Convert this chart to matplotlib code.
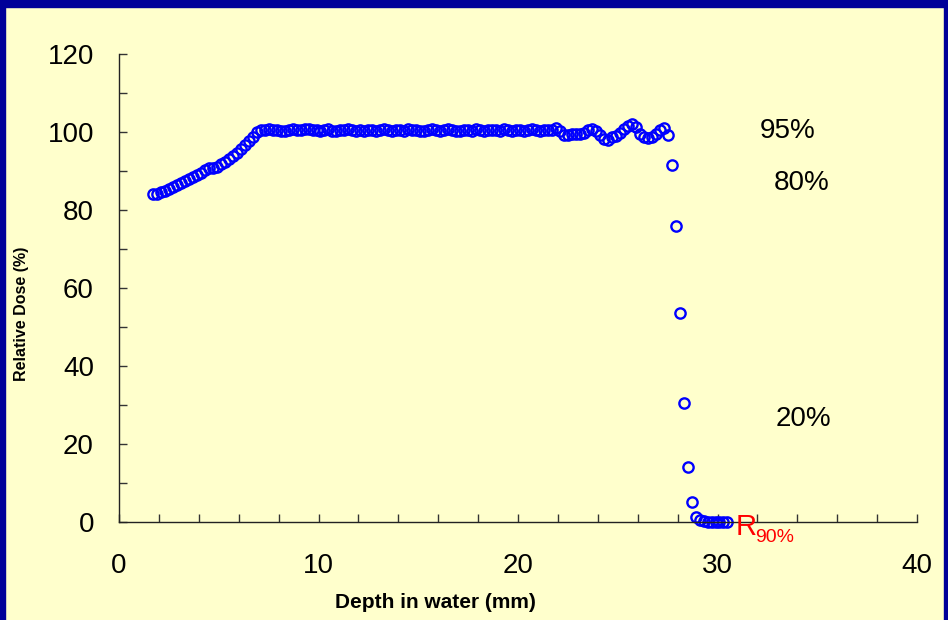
import matplotlib
matplotlib.use("Agg")
import matplotlib.pyplot as plt
from matplotlib.patches import Rectangle

plt.rcParams['font.family'] = ['Liberation Sans', 'DejaVu Sans']

depth = [1.7, 1.9, 2.1, 2.3, 2.5, 2.7, 2.9, 3.1, 3.3, 3.5,
         3.7, 3.9, 4.1, 4.3, 4.5, 4.7, 4.9, 5.1, 5.3, 5.5,
         5.7, 5.9, 6.1, 6.3, 6.5, 6.7, 6.9, 7.1, 7.3, 7.5,
         7.7, 7.9, 8.1, 8.3, 8.5, 8.7, 8.9, 9.1, 9.3, 9.5,
         9.7, 9.9, 10.1, 10.3, 10.5, 10.7, 10.9, 11.1, 11.3, 11.5,
         11.7, 11.9, 12.1, 12.3, 12.5, 12.7, 12.9, 13.1, 13.3, 13.5,
         13.7, 13.9, 14.1, 14.3, 14.5, 14.7, 14.9, 15.1, 15.3, 15.5,
         15.7, 15.9, 16.1, 16.3, 16.5, 16.7, 16.9, 17.1, 17.3, 17.5,
         17.7, 17.9, 18.1, 18.3, 18.5, 18.7, 18.9, 19.1, 19.3, 19.5,
         19.7, 19.9, 20.1, 20.3, 20.5, 20.7, 20.9, 21.1, 21.3, 21.5,
         21.7, 21.9, 22.1, 22.3, 22.5, 22.7, 22.9, 23.1, 23.3, 23.5,
         23.7, 23.9, 24.1, 24.3, 24.5, 24.7, 24.9, 25.1, 25.3, 25.5,
         25.7, 25.9, 26.1, 26.3, 26.5, 26.7, 26.9, 27.1, 27.3, 27.5,
         27.7, 27.9, 28.1, 28.3, 28.5, 28.7, 28.9, 29.1, 29.3, 29.5,
         29.7, 29.9, 30.1, 30.3, 30.5]

dose = [84.1, 84.2, 84.6, 85.0, 85.3, 85.9, 86.4, 86.9, 87.5, 88.0,
        88.5, 89.0, 89.6, 90.3, 90.7, 90.7, 91.0, 91.7, 92.4, 93.1,
        93.8, 94.6, 95.6, 96.6, 97.6, 98.8, 100.0, 100.4,
        100.5, 100.8, 100.4, 100.6, 100.2, 100.3, 100.5, 100.7, 100.6, 100.4,
        100.7, 100.8, 100.6, 100.4, 100.2, 100.5, 100.7, 100.3, 100.2, 100.6,
        100.4, 100.7, 100.5, 100.3, 100.6, 100.2, 100.4, 100.6, 100.3, 100.5,
        100.7, 100.4, 100.2, 100.6, 100.5, 100.3, 100.7, 100.4, 100.6, 100.3,
        100.2, 100.5, 100.7, 100.4, 100.3, 100.6, 100.8, 100.5, 100.3, 100.2,
        100.6, 100.4, 100.3, 100.7, 100.5, 100.2, 100.4, 100.6, 100.5, 100.3,
        100.7, 100.4, 100.2, 100.5, 100.6, 100.3, 100.4, 100.7, 100.5, 100.3,
        100.6, 100.4, 100.5,
        100.9, 100.2, 99.3, 99.2, 99.4, 99.5, 99.6, 99.8, 100.4, 100.8,
        100.2, 99.2, 98.2, 98.0, 98.6, 99.0, 99.8, 100.7, 101.5, 102.0,
        101.4, 99.6, 98.8, 98.5, 98.8, 99.6, 100.4, 100.9, 99.2,
        91.6, 76.0, 53.5, 30.4, 14.0, 5.2, 1.4, 0.4, 0.2, 0.1,
        0.0, 0.0, 0.0, 0.1, 0.0]

x_ticks = [0, 10, 20, 30, 40]
y_ticks = [0, 20, 40, 60, 80, 100, 120]
level_labels = ["95%", "80%", "20%"]
level_pos = [(33.5, 100.3), (34.2, 87.0), (34.3, 26.4)]

bg = '#FFFFCC'
border = '#000099'

fig = plt.figure(figsize=(9.48, 6.2), dpi=100, facecolor=bg)
W, H = 948, 620
fig.patches.append(Rectangle((0, 1 - 7 / H), 1, 7 / H, transform=fig.transFigure,
                             color=border, zorder=0))
fig.patches.append(Rectangle((0, 0), 5 / W, 1, transform=fig.transFigure,
                             color=border, zorder=0))
fig.patches.append(Rectangle((1 - 4 / W, 0), 4 / W, 1, transform=fig.transFigure,
                             color=border, zorder=0))

ax = fig.add_axes([119 / W, (H - 522) / H, 798 / W, 468 / H])
ax.set_facecolor(bg)
ax.patch.set_alpha(0)

ax.plot(depth, dose, linestyle='none', marker='o', markersize=7.4,
        markerfacecolor='none', markeredgecolor='#0000FF', markeredgewidth=1.7,
        clip_on=False)

ax.set_xlim(0, 40)
ax.set_ylim(0, 120)
ax.set_xticks(x_ticks)
ax.set_xticks([v for v in range(0, 41, 2)], minor=True)
ax.set_yticks(y_ticks)
ax.set_yticks([v for v in range(0, 121, 10)], minor=True)
for s in ['top', 'right']:
    ax.spines[s].set_visible(False)
for s in ['left', 'bottom']:
    ax.spines[s].set_color('#222222')
    ax.spines[s].set_linewidth(1.0)

ax.tick_params(axis='both', which='both', direction='in', color='#333333', width=1.0)
ax.tick_params(axis='both', which='major', length=6, labelsize=20)
ax.tick_params(axis='both', which='minor', length=6)
ax.tick_params(axis='x', which='major', pad=22)
ax.tick_params(axis='y', which='major', pad=18)

fig.text(22 / W, 1 - 314 / H, 'Relative Dose (%)', rotation=90, ha='center', va='center',
         fontsize=11.5, fontweight='bold')
fig.text(435 / W, 1 - 602 / H, 'Depth in water (mm)', ha='center', va='center',
         fontsize=15, fontweight='bold')

for lab, (lx, ly) in zip(level_labels, level_pos):
    ax.text(lx, ly, lab, ha='center', va='center', fontsize=20, clip_on=False)

ax.text(30.9, -3.4, 'R', color='#FF0000', fontsize=21, ha='left', va='baseline', clip_on=False)
ax.text(31.9, -5.2, '90%', color='#FF0000', fontsize=14, ha='left', va='baseline', clip_on=False)

fig.savefig('out.png', dpi=100, facecolor=bg)
